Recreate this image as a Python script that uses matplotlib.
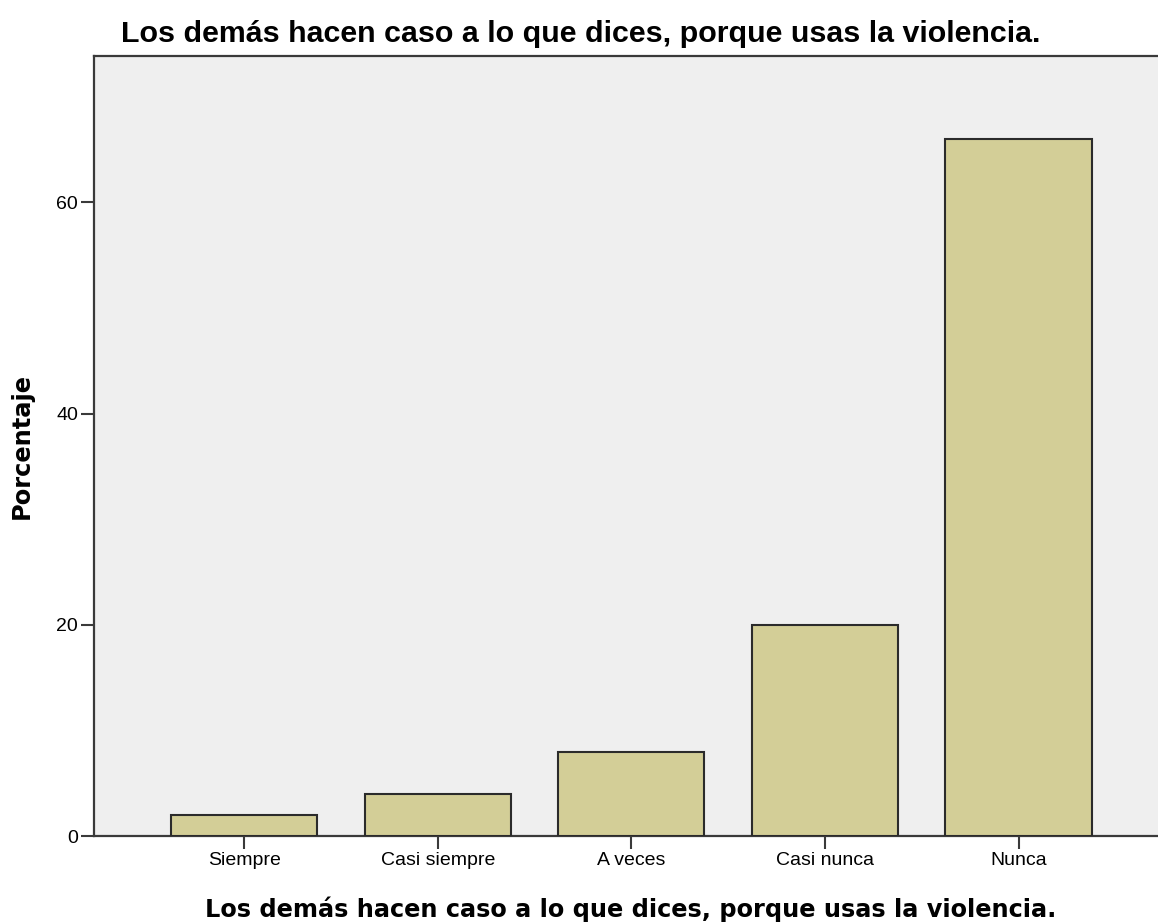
import matplotlib.pyplot as plt

# ── Data ──────────────────────────────────────────────────────────────────────
categories = ["Siempre", "Casi siempre", "A veces", "Casi nunca", "Nunca"]
percentages = [2.0, 4.0, 8.0, 20.0, 66.0]
y_ticks = [0, 20, 40, 60]

TITLE = "Los demás hacen caso a lo que dices, porque usas la violencia."

# ── Style ─────────────────────────────────────────────────────────────────────
BAR = "#D3CE97"
BG = "#EFEFEF"
EDGE = "#2B2B2B"
AXIS = "#3A3A3A"

plt.rcParams["font.family"] = ["Liberation Sans", "DejaVu Sans"]

W, H = 1158, 922
fig = plt.figure(figsize=(W / 100, H / 100), dpi=100)
ax = fig.add_axes([94 / W, 86 / H, 1 - 94 / W, (836 - 56) / H])
ax.set_facecolor(BG)

pos = list(range(len(categories)))
ax.bar(pos, percentages, width=0.755, color=BAR, edgecolor=EDGE,
       linewidth=1.5, zorder=3)

ax.set_xlim(-0.775, 4.72)
ax.set_ylim(0, 73.85)
ax.set_xticks(pos)
ax.set_xticklabels(categories, fontsize=14)
ax.set_yticks(y_ticks)
ax.set_yticklabels([str(t) for t in y_ticks], fontsize=14)
ax.tick_params(axis="both", length=9.5, width=1.5, color=AXIS, pad=2)

for side in ("left", "top", "bottom"):
    ax.spines[side].set_linewidth(1.6)
    ax.spines[side].set_color(AXIS)
ax.spines["right"].set_visible(False)

# axis titles (wider bold face, like the SPSS output)
ax.set_ylabel("Porcentaje", fontsize=17.4, fontweight="bold",
              family="DejaVu Sans")
ax.yaxis.set_label_coords((22 - 94) / (W - 94), 0.5)
ax.yaxis.label.set_va("center")

ax.set_xlabel(TITLE, fontsize=17.3, fontweight="bold", family="DejaVu Sans")
ax.xaxis.set_label_coords((631 - 94) / (W - 94), (836 - 917) / 780)
ax.xaxis.label.set_va("baseline")

fig.text(581 / W, 1 - 42 / H, TITLE, ha="center", va="baseline",
         fontsize=21.9, fontweight="bold")

fig.savefig("out.png", dpi=100, facecolor="white")
plt.close(fig)
